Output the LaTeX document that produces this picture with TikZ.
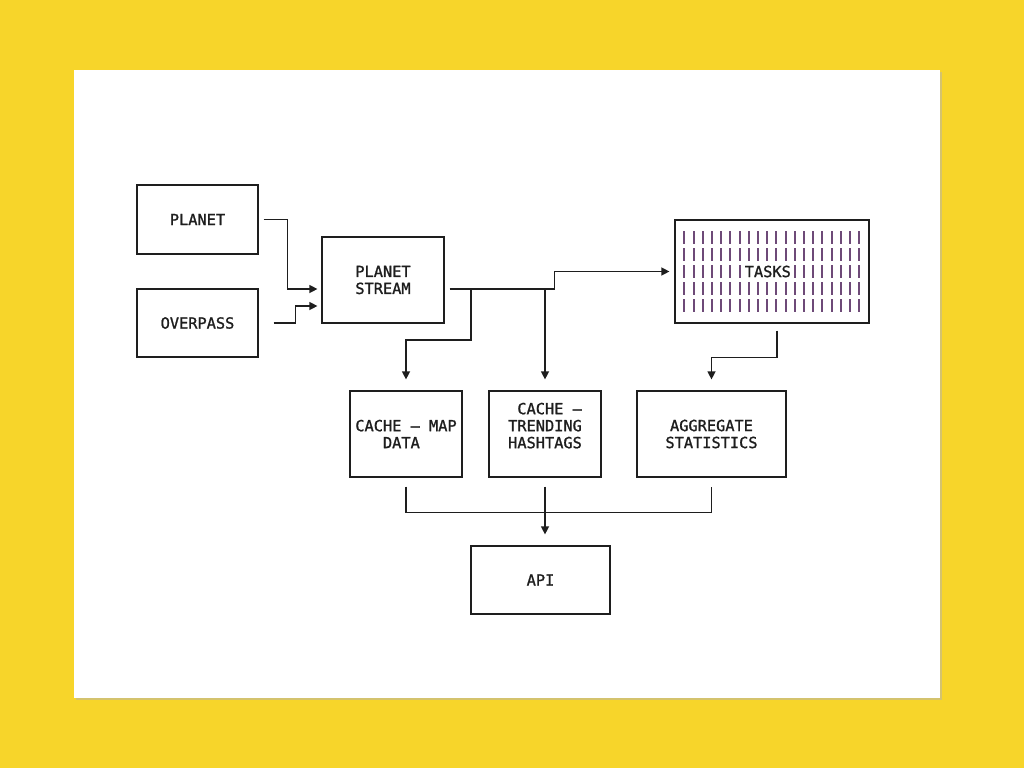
\documentclass[tikz,border=0pt]{standalone}
\usepackage{fontspec}
\newfontfamily\asciifont[FakeBold=1.2]{DejaVu Sans Mono}
\usetikzlibrary{arrows.meta}
\definecolor{backyellow}{HTML}{F7D52A}
\definecolor{inkgray}{HTML}{1E1E1E}
\definecolor{barcol}{HTML}{6E4A78}

\begin{document}
\begin{tikzpicture}[
  x=1pt, y=-1pt,
  block/.style={draw=inkgray, line width=1.2pt, align=center, inner sep=0pt,
    text=inkgray, font=\asciifont\fontsize{15.3}{17}\selectfont},
  wire/.style={draw=inkgray, line width=1.3pt},
  link/.style={wire, -{Triangle[length=8pt,width=8pt]}}
]
% page and card
\useasboundingbox (0,0) rectangle (1024,768);
\fill[backyellow] (0,0) rectangle (1024,768);
\fill[black!30, opacity=0.5] (75.5,71.5) rectangle (941.5,699.5);
\fill[white] (74,70) rectangle (940,698);

% sources
\node[block, minimum width=121pt, minimum height=69pt] (planet) at (197.5,219.5) {PLANET};
\node[block, minimum width=121pt, minimum height=68pt] (overpass) at (197.5,323) {OVERPASS};
\node[block, minimum width=122pt, minimum height=86pt] (stream) at (383,280) {PLANET\\STREAM};

% task queue
\node[block, minimum width=194pt, minimum height=103pt] (tasks) at (772,271.5) {};
\begin{scope}[shift={(tasks.north west)}]
  \foreach \r in {0,...,4}
    \foreach \c in {0,...,19} {
      \pgfmathtruncatemacro{\skipbar}{(\r==2)&&(\c>6)&&(\c<12)}
      \ifnum\skipbar=0
        \draw[barcol, line width=1.9pt] (10+\c*9.2,12+\r*17) -- ++(0,13);
      \fi
    }
\end{scope}
\node[block, draw=none] at ([xshift=-4.2pt]tasks.center) {TASKS};

% caches and stats
\node[block, minimum width=112pt, minimum height=86pt] (cachemap) at (406,434) {CACHE – MAP\\DATA\hphantom{X}};
\node[block, minimum width=112pt, minimum height=86pt] (cachetrend) at (545,434) {\hphantom{X}CACHE –\\TRENDING\\HASHTAGS\\\mbox{}};
\node[block, minimum width=149pt, minimum height=86pt] (aggstats) at (711.5,434) {AGGREGATE\\STATISTICS};
\node[block, minimum width=139pt, minimum height=68pt] (api) at (540.5,580) {API};

% connectors
\draw[link] ([xshift=5pt]planet.east) -- ++(24,0) |- ([xshift=-4pt,yshift=-9pt]stream.west);
\draw[link] ([xshift=15pt]overpass.east) -- ++(22,0) |- ([xshift=-4pt,yshift=-26pt]stream.west);
\draw[link] ([xshift=5pt,yshift=-9pt]stream.east) -- ++(105,0) |- ([xshift=-5pt]tasks.west);
\coordinate (tap1) at (471,289);
\coordinate (tap2) at (545,289);
\draw[link] (tap1) -- ++(0,51) -| ([yshift=11pt]cachemap.north);
\draw[link] (tap2) -- ([yshift=11pt]cachetrend.north);
\draw[link] ([xshift=5pt,yshift=-7pt]tasks.south) -- ++(0,27) -| ([yshift=11pt]aggstats.north);
\draw[wire] ([yshift=-9pt]cachemap.south) -- ++(0,26) -| ([yshift=-9pt]aggstats.south);
\draw[link] ([yshift=-9pt]cachetrend.south) -- ([yshift=11pt]cachetrend.south |- api.north);
\end{tikzpicture}
\end{document}
